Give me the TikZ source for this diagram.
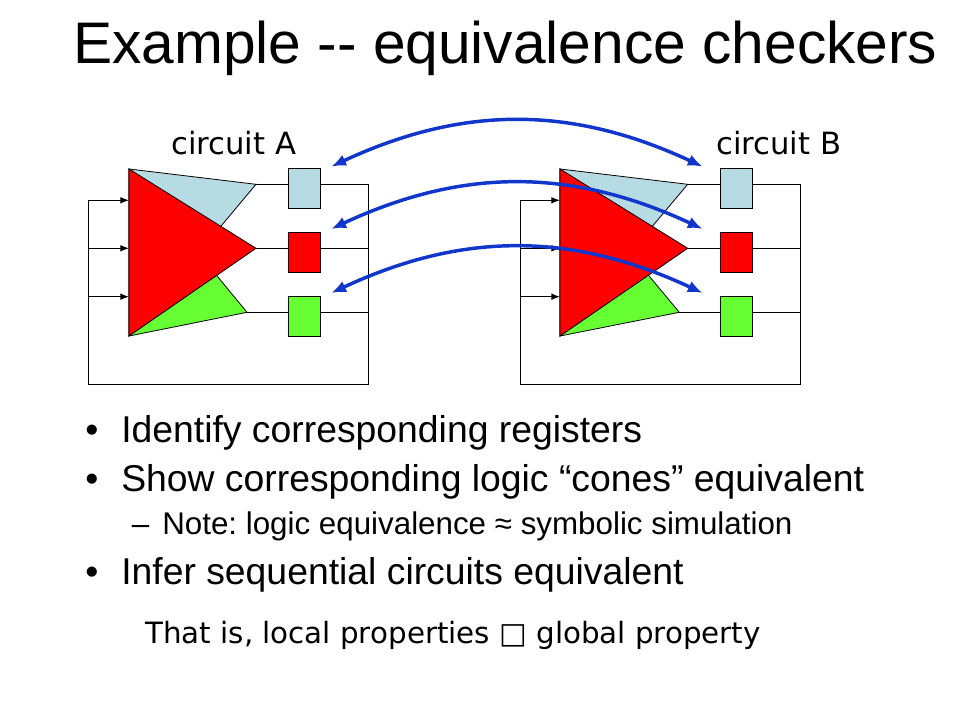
\documentclass[tikz,border=0pt]{standalone}
\usepackage{fontspec}
\setmainfont{Liberation Sans}
\newfontfamily\handfont{DejaVu Sans}
\usepackage{tikz}
\usetikzlibrary{arrows,arrows.meta,shapes}
\usetikzlibrary{calc}
\definecolor{regblue}{RGB}{183,219,226}
\definecolor{reggreen}{RGB}{102,255,51}
\definecolor{linkblue}{RGB}{16,54,204}
\frenchspacing

\begin{document}
\begin{tikzpicture}
    [x=0.75pt, y=-0.75pt,
    reg/.style={draw=black, line width=0.6pt, rectangle, minimum width=24pt, minimum height=30pt, inner sep=0pt},
    cone/.style={draw=black, line width=0.6pt},
    wire/.style={black, line width=0.75pt},
    feed/.style={black, line width=0.75pt, arrows = {-Latex[length=6.5pt,width=5pt]}},
    link/.style={linkblue, arrows = {Latex[length=11pt,width=9pt]-Latex[length=11pt,width=9pt]}, line width=2.6pt},
    txt/.style={anchor=base west, inner sep=0pt}]

    \useasboundingbox (0,0) rectangle (960,720);

    % title
    \node[txt] (title) at (73,64) {\fontsize{44}{48}\selectfont Example -{}- equivalence checkers};

    % circuit A
    \node[txt] (labelA) at (171,155) {\handfont\fontsize{23}{26}\selectfont circuit A};

    \coordinate (atop) at (129,169);
    \coordinate (abot) at (129,336);
    \coordinate (ablue) at (256,184.3);
    \coordinate (ared) at (256,248.3);
    \coordinate (agreen) at (247,312.3);
    \coordinate (acr) at (368,384.7);
    \coordinate (acl) at (88.3,384.7);
    \coordinate (ain1) at (129,200.3);
    \coordinate (ain2) at (129,248.3);
    \coordinate (ain3) at (129,296.7);

    \draw [cone, fill=regblue] (atop) -- (ablue) -- (abot) -- cycle;
    \draw [cone, fill=reggreen] (atop) -- (agreen) -- (abot) -- cycle;
    \draw [cone, fill=red] (atop) -- (ared) -- (abot) -- cycle;

    \node[reg, fill=regblue] (ra1) at (304.3,188.3) {};
    \node[reg, fill=red] (ra2) at (304.3,252.3) {};
    \node[reg, fill=reggreen] (ra3) at (304.3,316) {};

    \draw [wire] (ablue) -- (ablue -| ra1.west);
    \draw [wire] (ared) -- (ared -| ra2.west);
    \draw [wire] (agreen) -- (agreen -| ra3.west);
    \draw [feed] (ra1.east |- ablue) -| (acr) -- (acl) |- (ain1);
    \draw [wire] (ra2.east |- ared) -- (ared -| acr);
    \draw [wire] (ra3.east |- agreen) -- (agreen -| acr);
    \draw [feed] (ain2 -| acl) -- (ain2);
    \draw [feed] (ain3 -| acl) -- (ain3);

    % circuit B
    \node[txt] (labelB) at (716,155) {\handfont\fontsize{23}{26}\selectfont circuit B};

    \coordinate (btop) at (560,169);
    \coordinate (bbot) at (560,336);
    \coordinate (bblue) at (687.7,184.3);
    \coordinate (bred) at (687.7,248.3);
    \coordinate (bgreen) at (679.3,312.3);
    \coordinate (bcr) at (800,384.3);
    \coordinate (bcl) at (520.7,384.3);
    \coordinate (bin1) at (560,200.3);
    \coordinate (bin2) at (560,248.3);
    \coordinate (bin3) at (560,296.7);

    \draw [cone, fill=regblue] (btop) -- (bblue) -- (bbot) -- cycle;
    \draw [cone, fill=reggreen] (btop) -- (bgreen) -- (bbot) -- cycle;
    \draw [cone, fill=red] (btop) -- (bred) -- (bbot) -- cycle;

    \node[reg, fill=regblue] (rb1) at (736.2,188.3) {};
    \node[reg, fill=red] (rb2) at (736.2,252.3) {};
    \node[reg, fill=reggreen] (rb3) at (736.2,316) {};

    \draw [wire] (bblue) -- (bblue -| rb1.west);
    \draw [wire] (bred) -- (bred -| rb2.west);
    \draw [wire] (bgreen) -- (bgreen -| rb3.west);
    \draw [feed] (rb1.east |- bblue) -| (bcr) -- (bcl) |- (bin1);
    \draw [wire] (rb2.east |- bred) -- (bred -| bcr);
    \draw [wire] (rb3.east |- bgreen) -- (bgreen -| bcr);
    \draw [feed] (bin2 -| bcl) -- (bin2);
    \draw [feed] (bin3 -| bcl) -- (bin3);

    % corresponding registers
    \draw [link] ([xshift=8pt,yshift=1pt]ra1.north east) to[bend left=25] ([xshift=-13pt,yshift=1pt]rb1.north west);
    \draw [link] ([xshift=8pt,yshift=2.25pt]ra2.north east) to[bend left=25] ([xshift=-13pt,yshift=2.25pt]rb2.north west);
    \draw [link] ([xshift=8pt,yshift=2pt]ra3.north east) to[bend left=25] ([xshift=-13pt,yshift=2pt]rb3.north west);

    % bullets
    \node[txt] (dot1) at (85,442.7) {\fontsize{28}{32}\selectfont •};
    \node[txt] (item1) at (121,442.7) {\fontsize{28}{32}\selectfont Identify corresponding registers};
    \node[txt] (dot2) at (85,491.7) {\fontsize{28}{32}\selectfont •};
    \node[txt] (item2) at (121,491.7) {\fontsize{28}{32}\selectfont Show corresponding logic “cones” equivalent};
    \node[txt] (dash1) at (131.7,534.3) {\fontsize{23.5}{26}\selectfont –};
    \node[txt] (sub1) at (162,534.3) {\fontsize{23.5}{26}\selectfont Note: logic equivalence ≈ symbolic simulation};
    \node[txt] (dot3) at (85,584) {\fontsize{28}{32}\selectfont •};
    \node[txt] (item3) at (121,584) {\fontsize{28}{32}\selectfont Infer sequential circuits equivalent};

    \node[txt] (note) at (145,643.3) {\handfont\fontsize{22}{24}\selectfont That is, local properties □ global property};
\end{tikzpicture}
\end{document}
